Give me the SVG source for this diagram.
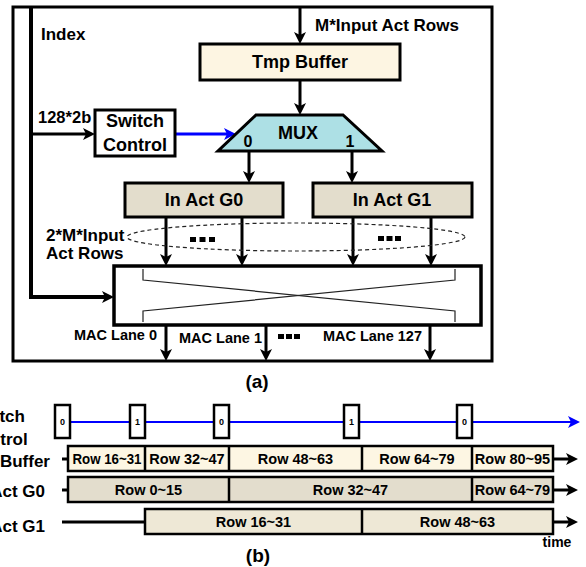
<svg xmlns="http://www.w3.org/2000/svg" width="586" height="567" viewBox="0 0 586 567">
<defs>
<style>
text{font-family:"Liberation Sans",Arial,sans-serif;font-weight:bold;fill:#000}
.lbl{font-size:17px}
.box{font-size:18px;text-anchor:middle}
.row{font-size:14.5px;text-anchor:middle}
.sw{font-size:9px;text-anchor:middle}
.blk{stroke:#000;stroke-width:3;fill:none}
.thin{stroke:#222;stroke-width:1.2;fill:none}
.dot{fill:#000}
</style>
<marker id="ah" markerUnits="userSpaceOnUse" markerWidth="13" markerHeight="13" refX="8" refY="6" orient="auto">
<path d="M0,0 L12,6 L0,12 L3,6 z" fill="#000"/>
</marker>
<marker id="ahb" markerUnits="userSpaceOnUse" markerWidth="13" markerHeight="13" refX="8" refY="6" orient="auto">
<path d="M0,0 L12,6 L0,12 L3,6 z" fill="#0000FF"/>
</marker>
</defs>
<rect width="586" height="567" fill="#fff"/>

<!-- (a) outer frame -->
<rect x="13" y="7" width="479" height="354" fill="none" stroke="#000" stroke-width="3"/>

<g id="connectors">
<line x1="300" y1="7" x2="300" y2="40" class="blk" marker-end="url(#ah)"/>
<polyline points="31,7 31,297 110,297" fill="none" stroke="#000" stroke-width="4" marker-end="url(#ah)"/>
<line x1="31" y1="134" x2="91" y2="134" class="blk" marker-end="url(#ah)"/>
<line x1="175" y1="134" x2="232" y2="134" stroke="#0000FF" stroke-width="3" marker-end="url(#ahb)"/>
<line x1="300" y1="80" x2="300" y2="111" class="blk" marker-end="url(#ah)"/>
<line x1="249" y1="151" x2="249" y2="179" class="blk" marker-end="url(#ah)"/>
<line x1="352" y1="151" x2="352" y2="179" class="blk" marker-end="url(#ah)"/>
<line x1="166" y1="217" x2="166" y2="262" class="blk" marker-end="url(#ah)"/>
<line x1="242" y1="217" x2="242" y2="262" class="blk" marker-end="url(#ah)"/>
<line x1="353" y1="217" x2="353" y2="262" class="blk" marker-end="url(#ah)"/>
<line x1="431" y1="217" x2="431" y2="262" class="blk" marker-end="url(#ah)"/>
<line x1="166" y1="325" x2="166" y2="357" class="blk" marker-end="url(#ah)"/>
<line x1="266" y1="325" x2="266" y2="357" class="blk" marker-end="url(#ah)"/>
<line x1="430" y1="325" x2="430" y2="357" class="blk" marker-end="url(#ah)"/>
</g>

<text x="41" y="40" class="lbl">Index</text>
<text x="315" y="31" class="lbl">M*Input Act Rows</text>
<text x="38" y="123" class="lbl" style="font-size:16.5px">128*2b</text>

<g id="tmp-buffer">
<rect x="200" y="44" width="200" height="36" fill="#FDF5E2" stroke="#000" stroke-width="3"/>
<text x="300" y="68" class="box">Tmp Buffer</text>
</g>

<g id="switch-control">
<rect x="95" y="110" width="80" height="46" fill="#fff" stroke="#000" stroke-width="3"/>
<text x="135" y="127" class="box">Switch</text>
<text x="135" y="151" class="box">Control</text>
</g>

<g id="mux">
<polygon points="256,115 343,115 382,151 218,151" fill="#ADE0E5" stroke="#000" stroke-width="3"/>
<text x="298" y="139" class="box">MUX</text>
<text x="248" y="147" style="font-size:16px" text-anchor="middle">0</text>
<text x="350" y="147" style="font-size:16px" text-anchor="middle">1</text>
</g>

<g id="in-act-g0">
<rect x="125" y="183" width="158" height="34" fill="#E3DDCC" stroke="#000" stroke-width="3"/>
<text x="204" y="206" class="box">In Act G0</text>
</g>

<g id="in-act-g1">
<rect x="313" y="183" width="159" height="34" fill="#E3DDCC" stroke="#000" stroke-width="3"/>
<text x="392" y="206" class="box">In Act G1</text>
</g>

<g id="input-rows">
<ellipse cx="296" cy="237" rx="169" ry="14" fill="none" stroke="#222" stroke-width="1.2" stroke-dasharray="4,3"/>
<rect x="190" y="237" width="6" height="5" class="dot"/>
<rect x="199.5" y="237" width="6" height="5" class="dot"/>
<rect x="209" y="237" width="6" height="5" class="dot"/>
<rect x="378" y="236" width="6" height="5" class="dot"/>
<rect x="386.5" y="236" width="6" height="5" class="dot"/>
<rect x="395" y="236" width="6" height="5" class="dot"/>
<text x="46" y="241" class="lbl">2*M*Input</text>
<text x="46" y="259" class="lbl">Act Rows</text>
</g>

<g id="crossbar">
<rect x="114" y="266" width="367" height="59" fill="#fff" stroke="#000" stroke-width="3.5"/>
<polyline points="143,269 143,280 455,311 455,322" class="thin"/>
<polyline points="143,322 143,311 455,280 455,269" class="thin"/>
</g>

<g id="mac-lanes">
<text x="157" y="340" text-anchor="end" style="font-size:14.5px">MAC Lane 0</text>
<text x="262" y="343" text-anchor="end" style="font-size:14.5px">MAC Lane 1</text>
<text x="422" y="341" text-anchor="end" style="font-size:14.5px">MAC Lane 127</text>
<rect x="278" y="334" width="6" height="5" class="dot"/>
<rect x="286" y="334" width="6" height="5" class="dot"/>
<rect x="294" y="334" width="6" height="5" class="dot"/>
</g>

<text x="257" y="388" text-anchor="middle" style="font-size:19px">(a)</text>

<!-- (b) timeline -->
<g id="timeline-labels">
<text x="-2.5" y="422" class="lbl" text-anchor="middle">Switch</text>
<text x="-2.5" y="445" class="lbl" text-anchor="middle">Control</text>
<text x="50" y="467" class="lbl" text-anchor="end">Tmp Buffer</text>
<text x="45" y="497" class="lbl" text-anchor="end">In Act G0</text>
<text x="45" y="532" class="lbl" text-anchor="end">In Act G1</text>
</g>

<g id="timeline-connectors">
<line x1="70" y1="422" x2="576" y2="422" stroke="#0000FF" stroke-width="2" marker-end="url(#ahb)"/>
<line x1="62" y1="459" x2="68" y2="459" class="blk"/>
<line x1="62" y1="490" x2="68" y2="490" class="blk"/>
<line x1="62" y1="522" x2="145" y2="522" class="blk"/>
<line x1="553" y1="459" x2="574" y2="459" class="blk" marker-end="url(#ah)"/>
<line x1="553" y1="490" x2="574" y2="490" class="blk" marker-end="url(#ah)"/>
<line x1="553" y1="522" x2="574" y2="522" class="blk" marker-end="url(#ah)"/>
</g>

<g id="switch-marks">
<rect x="55" y="405" width="15" height="33" fill="#fff" stroke="#000" stroke-width="2.5"/>
<text x="62.5" y="425" class="sw">0</text>
<rect x="130" y="405" width="15" height="33" fill="#fff" stroke="#000" stroke-width="2.5"/>
<text x="137.5" y="425" class="sw">1</text>
<rect x="214" y="405" width="15" height="33" fill="#fff" stroke="#000" stroke-width="2.5"/>
<text x="221.5" y="425" class="sw">0</text>
<rect x="344" y="405" width="15" height="33" fill="#fff" stroke="#000" stroke-width="2.5"/>
<text x="351.5" y="425" class="sw">1</text>
<rect x="457" y="405" width="15" height="33" fill="#fff" stroke="#000" stroke-width="2.5"/>
<text x="464.5" y="425" class="sw">0</text>
</g>

<g id="row-tmp-buffer">
<rect x="68" y="446" width="485" height="25" fill="#FDF6E3" stroke="#000" stroke-width="2.5"/>
<line x1="145" y1="446" x2="145" y2="471" stroke="#000" stroke-width="2.5"/>
<line x1="229" y1="446" x2="229" y2="471" stroke="#000" stroke-width="2.5"/>
<line x1="362" y1="446" x2="362" y2="471" stroke="#000" stroke-width="2.5"/>
<line x1="472" y1="446" x2="472" y2="471" stroke="#000" stroke-width="2.5"/>
<text x="107" y="464" class="row" textLength="69" lengthAdjust="spacingAndGlyphs">Row 16~31</text>
<text x="187" y="464" class="row">Row 32~47</text>
<text x="295.5" y="464" class="row">Row 48~63</text>
<text x="417" y="464" class="row">Row 64~79</text>
<text x="512.5" y="464" class="row">Row 80~95</text>
</g>

<g id="row-in-act-g0">
<rect x="68" y="477" width="485" height="25" fill="#E3DDCD" stroke="#000" stroke-width="2.5"/>
<line x1="229" y1="477" x2="229" y2="502" stroke="#000" stroke-width="2.5"/>
<line x1="472" y1="477" x2="472" y2="502" stroke="#000" stroke-width="2.5"/>
<text x="148.5" y="495" class="row">Row 0~15</text>
<text x="350.5" y="495" class="row">Row 32~47</text>
<text x="512.5" y="495" class="row">Row 64~79</text>
</g>

<g id="row-in-act-g1">
<rect x="145" y="509" width="408" height="25" fill="#EEE8D6" stroke="#000" stroke-width="2.5"/>
<line x1="362" y1="509" x2="362" y2="534" stroke="#000" stroke-width="2.5"/>
<text x="253.5" y="527" class="row">Row 16~31</text>
<text x="457.5" y="527" class="row">Row 48~63</text>
</g>

<text x="557" y="547" text-anchor="middle" style="font-size:14px">time</text>
<text x="258" y="562" text-anchor="middle" style="font-size:19px">(b)</text>
</svg>
